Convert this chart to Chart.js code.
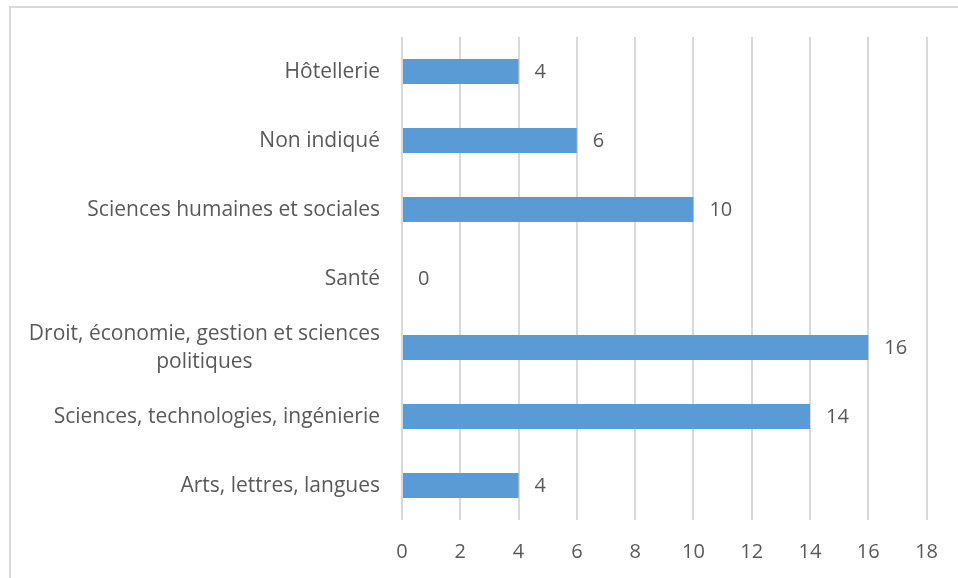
<!DOCTYPE html>
<html>
<head>
<meta charset="utf-8">
<script src="https://cdn.jsdelivr.net/npm/chart.js@4"></script>
<style>
  html, body { margin: 0; padding: 0; background: #ffffff; }
  #wrap { position: relative; width: 958px; height: 578px; }
</style>
</head>
<body>
<div id="wrap"><canvas id="chart" width="958" height="578"></canvas></div>
<script>
// Fields of study and the number of respondents in each
const categories = [
  'Hôtellerie',
  'Non indiqué',
  'Sciences humaines et sociales',
  'Santé',
  ['Droit, économie, gestion et sciences', 'politiques'],
  'Sciences, technologies, ingénierie',
  'Arts, lettres, langues'
];
const counts = [4, 6, 10, 0, 16, 14, 4];
const axisMin = 0;
const axisMax = 18;
const axisStep = 2;

const textColor = '#595959';
const gridColor = '#d9d9d9';
const barColor = '#5b9bd5';
const fontFamily = '"Open Sans", "Noto Sans", sans-serif';

// Thin light frame along the top and left edges
const framePlugin = {
  id: 'frame',
  beforeDraw(chart) {
    const ctx = chart.ctx;
    ctx.save();
    ctx.strokeStyle = gridColor;
    ctx.lineWidth = 2;
    ctx.beginPath();
    ctx.moveTo(10, chart.height);
    ctx.lineTo(10, 7);
    ctx.lineTo(chart.width, 7);
    ctx.stroke();
    ctx.restore();
  }
};

// Category names: each block is right-aligned against the axis,
// and the lines of a wrapped name are centred within their block
const categoryLabels = {
  id: 'categoryLabels',
  afterDraw(chart) {
    const ctx = chart.ctx;
    const yScale = chart.scales.y;
    const rightEdge = yScale.right - 22;
    const lineGap = 28;
    ctx.save();
    ctx.fillStyle = textColor;
    ctx.font = '21px ' + fontFamily;
    ctx.textAlign = 'center';
    ctx.textBaseline = 'middle';
    categories.forEach((label, i) => {
      const lines = Array.isArray(label) ? label : [label];
      const blockWidth = Math.max(...lines.map(l => ctx.measureText(l).width));
      const cx = rightEdge - blockWidth / 2;
      const cy = yScale.getPixelForTick(i);
      const firstY = cy - (lines.length - 1) * lineGap / 2;
      lines.forEach((line, k) => ctx.fillText(line, cx, firstY + k * lineGap + 1));
    });
    ctx.restore();
  }
};

// Value printed just past the end of each bar
const valueLabels = {
  id: 'valueLabels',
  afterDatasetsDraw(chart) {
    const ctx = chart.ctx;
    ctx.save();
    ctx.fillStyle = textColor;
    ctx.font = '20px ' + fontFamily;
    ctx.textAlign = 'left';
    ctx.textBaseline = 'middle';
    chart.getDatasetMeta(0).data.forEach((bar, i) => {
      ctx.fillText(String(counts[i]), bar.x + 16, bar.y + 1);
    });
    ctx.restore();
  }
};

new Chart(document.getElementById('chart'), {
  type: 'bar',
  data: {
    labels: categories,
    datasets: [{
      data: counts,
      backgroundColor: barColor,
      borderWidth: 0,
      barPercentage: 0.36,
      categoryPercentage: 1
    }]
  },
  options: {
    indexAxis: 'y',
    responsive: false,
    animation: false,
    layout: { padding: { top: 37, right: 30, left: 0, bottom: 0 } },
    plugins: {
      legend: { display: false },
      tooltip: { enabled: false }
    },
    scales: {
      x: {
        min: axisMin,
        max: axisMax,
        ticks: {
          stepSize: axisStep,
          color: textColor,
          font: { family: fontFamily, size: 20 },
          padding: 20
        },
        grid: { color: gridColor, lineWidth: 2, drawTicks: false },
        border: { display: false },
        afterFit(scale) { scale.height = 58; }
      },
      y: {
        ticks: { display: false },
        grid: { display: false, drawTicks: false },
        border: { display: false },
        afterFit(scale) { scale.width = 402; }
      }
    }
  },
  plugins: [framePlugin, categoryLabels, valueLabels]
});
</script>
</body>
</html>
